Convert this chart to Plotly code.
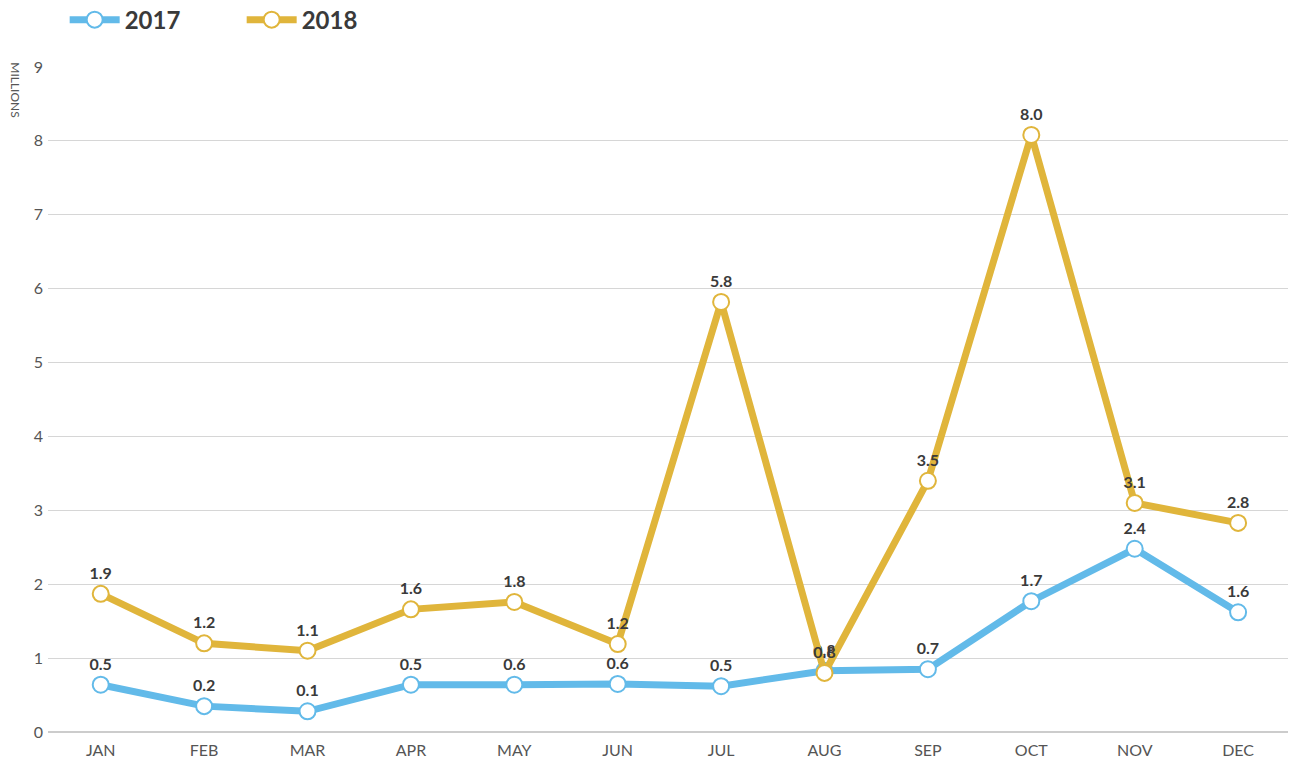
import plotly.graph_objects as go

months = ["JAN", "FEB", "MAR", "APR", "MAY", "JUN", "JUL", "AUG", "SEP", "OCT", "NOV", "DEC"]
vals_2017 = [0.64, 0.35, 0.28, 0.64, 0.64, 0.65, 0.62, 0.83, 0.85, 1.77, 2.48, 1.62]
vals_2018 = [1.87, 1.20, 1.10, 1.66, 1.76, 1.19, 5.82, 0.80, 3.40, 8.08, 3.10, 2.83]
labels_2017 = ["0.5", "0.2", "0.1", "0.5", "0.6", "0.6", "0.5", "0.8", "0.7", "1.7", "2.4", "1.6"]
labels_2018 = ["1.9", "1.2", "1.1", "1.6", "1.8", "1.2", "5.8", "0.8", "3.5", "8.0", "3.1", "2.8"]
y_ticks = [0, 1, 2, 3, 4, 5, 6, 7, 8, 9]

blue = "#62BAE9"
gold = "#E0B53B"
FONT = "Lato"

fig = go.Figure()
for name, vals, labels, color in [("2017", vals_2017, labels_2017, blue),
                                   ("2018", vals_2018, labels_2018, gold)]:
    fig.add_trace(go.Scatter(
        x=months, y=vals, name=name, mode="lines+markers+text",
        text=labels, textposition="top center",
        textfont=dict(family=FONT, size=16, color="#3a3a3a", weight="bold"),
        line=dict(color=color, width=7),
        marker=dict(size=16, color="white", line=dict(color=color, width=2)),
        cliponaxis=False,
    ))

fig.update_layout(
    width=1288, height=753,
    margin=dict(l=40, r=0, t=59, b=29, autoexpand=False),
    plot_bgcolor="white", paper_bgcolor="white",
    font=dict(family=FONT, color="#555"),
    showlegend=True,
    legend=dict(orientation="h", xref="container", yref="container",
                x=0.044, y=0.984, xanchor="left", yanchor="middle",
                font=dict(family=FONT, size=24, color="#3a3a3a", weight="bold"),
                itemwidth=50, entrywidth=112, bgcolor="rgba(0,0,0,0)"),
    xaxis=dict(type="category", range=[-0.51, 11.56], showgrid=False,
               showline=False, ticks="", tickfont=dict(size=16, color="#555"),
               zeroline=False, ticklabelstandoff=7, automargin=False),
    yaxis=dict(range=[0, 9], tickvals=y_ticks, showgrid=True, gridcolor="#d6d6d6",
               gridwidth=1, zeroline=True, zerolinecolor="#cccccc", zerolinewidth=1.5,
               tickfont=dict(size=16, color="#555"), ticks="", showline=False,
               ticklabelstandoff=4, automargin=False),
    annotations=[dict(text="MILLIONS", textangle=90, xref="paper", yref="paper",
                      x=-0.026, y=1.01, xanchor="center", yanchor="top",
                      showarrow=False, font=dict(family=FONT, size=12, color="#555"))],
)

fig.write_html("out.html")
